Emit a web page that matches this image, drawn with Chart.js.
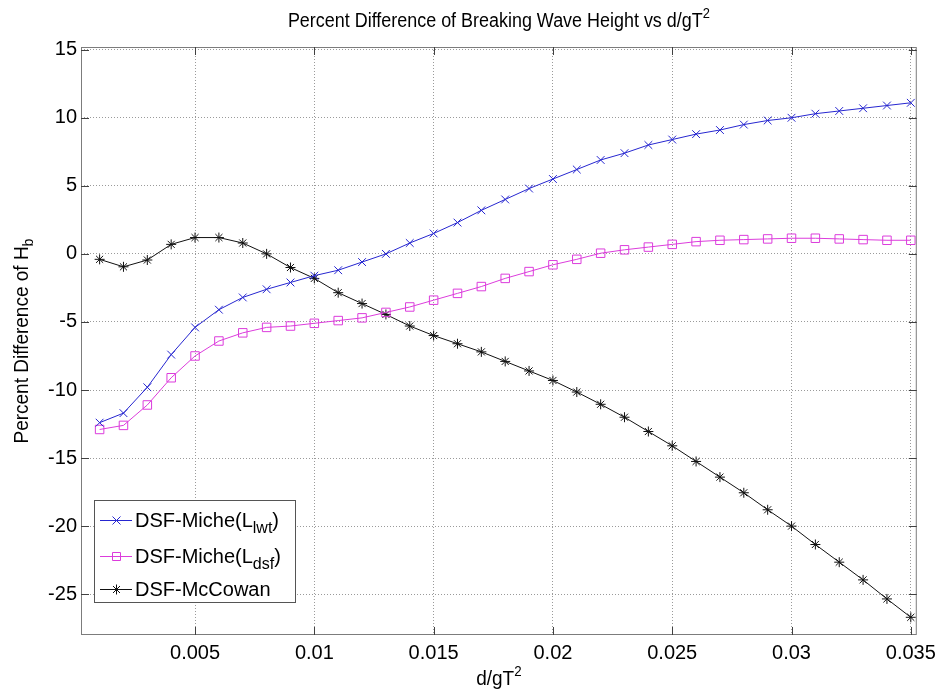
<!DOCTYPE html>
<html>
<head>
<meta charset="utf-8">
<title>Percent Difference of Breaking Wave Height</title>
<script src="https://cdn.jsdelivr.net/npm/chart.js@4.4.1/dist/chart.umd.min.js"></script>
<style>
  body { margin: 0; background: #fff; }
  #wrap { width: 942px; height: 694px; }
</style>
</head>
<body>
<div id="wrap"><canvas id="hbChart" width="942" height="694"></canvas></div>
<script>
// relative depth d/gT^2
const dGT2 = [
  0.001, 0.002, 0.003, 0.004, 0.005, 0.006, 0.007, 0.008, 0.009, 0.010,
  0.011, 0.012, 0.013, 0.014, 0.015, 0.016, 0.017, 0.018, 0.019, 0.020,
  0.021, 0.022, 0.023, 0.024, 0.025, 0.026, 0.027, 0.028, 0.029, 0.030,
  0.031, 0.032, 0.033, 0.034, 0.035
];

// percent difference of Hb for each method
const micheLwt = [
  -12.4, -11.7, -9.8, -7.4, -5.4, -4.1, -3.2, -2.6, -2.1, -1.6,
  -1.2, -0.6, 0.0, 0.8, 1.5, 2.3, 3.2, 4.0, 4.8, 5.5,
  6.2, 6.9, 7.4, 8.0, 8.4, 8.8, 9.1, 9.5, 9.8, 10.0,
  10.3, 10.5, 10.7, 10.9, 11.1
];
const micheLdsf = [
  -12.9, -12.6, -11.1, -9.1, -7.5, -6.4, -5.8, -5.4, -5.3, -5.1,
  -4.9, -4.7, -4.3, -3.9, -3.4, -2.9, -2.4, -1.8, -1.3, -0.8,
  -0.4, 0.05, 0.3, 0.5, 0.7, 0.9, 1.0, 1.05, 1.1, 1.15,
  1.15, 1.1, 1.05, 1.0, 1.0
];
const mcCowan = [
  -0.4, -0.95, -0.45, 0.7, 1.2, 1.2, 0.8, 0.0, -1.0, -1.8,
  -2.85, -3.65, -4.45, -5.3, -6.0, -6.6, -7.2, -7.9, -8.6, -9.3,
  -10.15, -11.05, -12.0, -13.05, -14.1, -15.25, -16.4, -17.55, -18.8, -20.0,
  -21.35, -22.65, -23.95, -25.35, -26.7
];

const xTicks = [0.005, 0.01, 0.015, 0.02, 0.025, 0.03, 0.035];
const xTickLabels = ['0.005', '0.01', '0.015', '0.02', '0.025', '0.03', '0.035'];
const yTicks = [-25, -20, -15, -10, -5, 0, 5, 10, 15];

// legend text pieces: [before, subscript, after]
const legendLabels = [
  ['DSF-Miche(L', 'lwt', ')'],
  ['DSF-Miche(L', 'dsf', ')'],
  ['DSF-McCowan', '', '']
];

const FONT = '"Liberation Sans", Arial, Helvetica, sans-serif';
const BLUE = '#2626d0';
const MAGENTA = '#dc3cdc';
const BLACK = '#111111';

function pairs(ys) {
  return dGT2.map((x, i) => ({x: x, y: ys[i]}));
}

// draws a run of text pieces with their own size and vertical shift,
// optionally squeezed horizontally by sx
function drawRich(ctx, parts, x, y, align, sx) {
  sx = sx || 1;
  let total = 0;
  parts.forEach(p => {
    ctx.font = p.size + 'px ' + FONT;
    p.w = ctx.measureText(p.text).width;
    total += p.w;
  });
  ctx.save();
  ctx.translate(x, y);
  ctx.scale(sx, 1);
  let cx = align === 'center' ? -total / 2 : 0;
  parts.forEach(p => {
    ctx.font = p.size + 'px ' + FONT;
    ctx.fillText(p.text, cx, p.dy || 0);
    cx += p.w;
  });
  ctx.restore();
}

function drawMarker(ctx, style, x, y) {
  ctx.beginPath();
  if (style === 'crossRot') {
    const r = 4;
    ctx.moveTo(x - r, y - r); ctx.lineTo(x + r, y + r);
    ctx.moveTo(x - r, y + r); ctx.lineTo(x + r, y - r);
  } else if (style === 'rect') {
    ctx.rect(x - 4, y - 4, 8, 8);
  } else {
    const r = 5, d = 3.5;
    ctx.moveTo(x - r, y); ctx.lineTo(x + r, y);
    ctx.moveTo(x, y - r); ctx.lineTo(x, y + r);
    ctx.moveTo(x - d, y - d); ctx.lineTo(x + d, y + d);
    ctx.moveTo(x - d, y + d); ctx.lineTo(x + d, y - d);
  }
  ctx.stroke();
}

const axesDecor = {
  id: 'axesDecor',
  afterDatasetsDraw(chart) {
    const ctx = chart.ctx;
    const {left, right, top, bottom} = chart.chartArea;
    const xs = chart.scales.x, ys = chart.scales.y;
    ctx.save();

    // box
    ctx.strokeStyle = '#7c7c7c';
    ctx.lineWidth = 1;
    ctx.strokeRect(left + 0.5, top + 0.5, right - left - 1, bottom - top - 1);

    // inward tick marks on all four sides
    ctx.strokeStyle = '#404040';
    ctx.beginPath();
    xTicks.forEach(v => {
      const px = Math.round(xs.getPixelForValue(v)) + 0.5;
      ctx.moveTo(px, bottom); ctx.lineTo(px, bottom - 8);
      ctx.moveTo(px, top); ctx.lineTo(px, top + 8);
    });
    yTicks.forEach(v => {
      const py = Math.round(ys.getPixelForValue(v)) + 0.5;
      ctx.moveTo(left, py); ctx.lineTo(left + 8, py);
      ctx.moveTo(right, py); ctx.lineTo(right - 8, py);
    });
    ctx.stroke();

    // titles
    ctx.fillStyle = '#000';
    ctx.textBaseline = 'alphabetic';
    const cx = (left + right) / 2;
    drawRich(ctx, [
      {text: 'Percent Difference of Breaking Wave Height vs d/gT', size: 19.5},
      {text: '2', size: 14, dy: -9}
    ], cx, 27, 'center', 0.92);
    drawRich(ctx, [
      {text: 'd/gT', size: 20},
      {text: '2', size: 14, dy: -9}
    ], cx, 685, 'center', 0.95);

    ctx.save();
    ctx.translate(28, (top + bottom) / 2);
    ctx.rotate(-Math.PI / 2);
    drawRich(ctx, [
      {text: 'Percent Difference of H', size: 20},
      {text: 'b', size: 15, dy: 5}
    ], 0, 0, 'center', 0.95);
    ctx.restore();

    // legend
    const bx = 94.5, by = 500.5, bw = 201, bh = 102;
    ctx.fillStyle = '#fff';
    ctx.fillRect(bx, by, bw, bh);
    ctx.strokeStyle = '#555';
    ctx.strokeRect(bx, by, bw, bh);
    const rows = [520, 556, 589];
    chart.data.datasets.forEach((ds, i) => {
      const ry = rows[i] + 0.5;
      ctx.strokeStyle = ds.borderColor;
      ctx.lineWidth = 1;
      ctx.beginPath();
      ctx.moveTo(100, ry); ctx.lineTo(132, ry);
      ctx.stroke();
      drawMarker(ctx, ds.pointStyle, 116.5, ry);
      ctx.fillStyle = '#000';
      const lab = legendLabels[i];
      drawRich(ctx, [
        {text: lab[0], size: 20},
        {text: lab[1], size: 16, dy: 6},
        {text: lab[2], size: 20}
      ], 135, rows[i] + 7, 'left');
    });

    ctx.restore();
  }
};

const config = {
  type: 'line',
  data: {
    datasets: [{
      label: 'DSF-Miche(Llwt)',
      data: pairs(micheLwt),
      borderColor: BLUE,
      borderWidth: 1,
      pointStyle: 'crossRot',
      pointRadius: 5.5,
      pointBorderColor: BLUE,
      pointBorderWidth: 1,
      tension: 0
    }, {
      label: 'DSF-Miche(Ldsf)',
      data: pairs(micheLdsf),
      borderColor: MAGENTA,
      borderWidth: 1,
      pointStyle: 'rect',
      pointRadius: 6,
      pointBackgroundColor: 'rgba(0,0,0,0)',
      pointBorderColor: MAGENTA,
      pointBorderWidth: 1,
      tension: 0
    }, {
      label: 'DSF-McCowan',
      data: pairs(mcCowan),
      borderColor: BLACK,
      borderWidth: 1,
      pointStyle: 'star',
      pointRadius: 5,
      pointBorderColor: BLACK,
      pointBorderWidth: 1,
      tension: 0
    }]
  },
  options: {
    responsive: false,
    animation: false,
    events: [],
    layout: {padding: {top: 47, right: 23, bottom: 0, left: 0}},
    plugins: {
      legend: {display: false},
      title: {display: false},
      tooltip: {enabled: false}
    },
    scales: {
      x: {
        type: 'linear',
        min: 0.00022,
        max: 0.03525,
        afterBuildTicks: s => { s.ticks = xTicks.map(v => ({value: v})); },
        afterFit: s => { s.height = 59; },
        grid: {color: '#9a9a9a', drawTicks: false},
        border: {display: false, dash: [1, 2]},
        ticks: {
          padding: 6,
          maxRotation: 0,
          color: '#000',
          font: {family: FONT, size: 20},
          callback: v => xTickLabels[xTicks.indexOf(v)] ?? ''
        }
      },
      y: {
        min: -28,
        max: 15.2,
        afterBuildTicks: s => { s.ticks = yTicks.map(v => ({value: v})); },
        afterFit: s => { s.width = 81; },
        grid: {color: '#9a9a9a', drawTicks: false},
        border: {display: false, dash: [1, 2]},
        ticks: {
          padding: 4,
          color: '#000',
          font: {family: FONT, size: 20},
          callback: v => String(v)
        }
      }
    }
  },
  plugins: [axesDecor]
};

new Chart(document.getElementById('hbChart'), config);
</script>
</body>
</html>
